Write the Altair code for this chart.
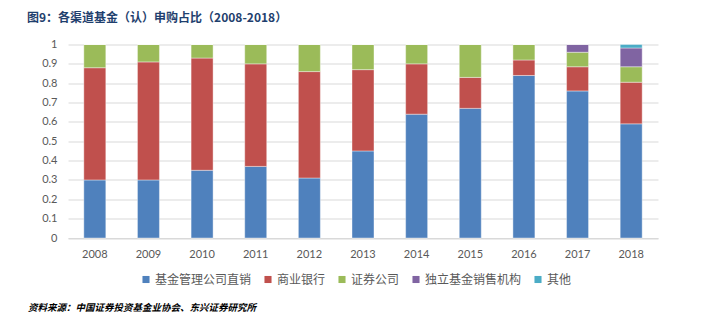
import altair as alt
import pandas as pd

years = ["2008", "2009", "2010", "2011", "2012", "2013", "2014", "2015", "2016", "2017", "2018"]
categories = ["基金管理公司直销", "商业银行", "证券公司", "独立基金销售机构", "其他"]
colors = ["#4F81BD", "#C0504D", "#9BBB59", "#8064A2", "#4BACC6"]

direct = [0.30, 0.30, 0.35, 0.37, 0.31, 0.45, 0.64, 0.67, 0.84, 0.76, 0.59]
bank = [0.58, 0.61, 0.58, 0.53, 0.55, 0.42, 0.26, 0.16, 0.08, 0.125, 0.215]
broker = [0.12, 0.09, 0.07, 0.10, 0.14, 0.13, 0.10, 0.17, 0.08, 0.075, 0.08]
independent = [0, 0, 0, 0, 0, 0, 0, 0, 0, 0.04, 0.097]
other = [0, 0, 0, 0, 0, 0, 0, 0, 0, 0, 0.018]

title_text = "图9：各渠道基金（认）申购占比（2008-2018）"
source_text = "资料来源：中国证券投资基金业协会、东兴证券研究所"
y_ticks = [0, 0.1, 0.2, 0.3, 0.4, 0.5, 0.6, 0.7, 0.8, 0.9, 1]

series = [direct, bank, broker, independent, other]
rows = []
for ci, (cat, vals) in enumerate(zip(categories, series)):
    for y, v in zip(years, vals):
        rows.append({"year": y, "channel": cat, "share": v, "ord": ci})
df = pd.DataFrame(rows)

bars = alt.Chart(df).mark_bar(stroke="white", strokeWidth=0.4).encode(
    x=alt.X("year:N", sort=years, title=None,
            scale=alt.Scale(paddingInner=0.59, paddingOuter=0.295),
            axis=alt.Axis(labelAngle=0, ticks=False, labelPadding=10, labelFontSize=11,
                          labelColor="#595959", labelFont="Lato",
                          domainColor="#D9D9D9", domainWidth=1)),
    y=alt.Y("share:Q", stack="zero", title=None,
            scale=alt.Scale(domain=[0, 1], nice=False),
            axis=alt.Axis(values=y_ticks, format="~g", ticks=False, domain=False,
                          labelPadding=11, labelFontSize=11, labelColor="#595959",
                          labelFont="Lato", gridColor="#D9D9D9", gridWidth=1)),
    color=alt.Color("channel:N", sort=categories,
                    scale=alt.Scale(domain=categories, range=colors),
                    legend=alt.Legend(title=None, orient="none", direction="horizontal",
                                      legendX=72, legendY=229, symbolType="square",
                                      symbolSize=50, symbolStrokeWidth=0,
                                      labelFont="Noto Sans CJK SC",
                                      labelFontSize=12,
                                      labelColor="#595959", columnPadding=10,
                                      labelOffset=3)),
    order=alt.Order("ord:Q", sort="ascending"),
)

title = alt.Chart(pd.DataFrame({"t": [title_text]})).mark_text(
    align="left", baseline="middle", font="Noto Sans CJK SC", fontSize=12,
    fontWeight="bold", color="#1F3F6E"
).encode(text="t:N", x=alt.value(-41), y=alt.value(-26.5))

source = alt.Chart(pd.DataFrame({"t": [source_text]})).mark_text(
    align="left", baseline="middle", font="Noto Sans CJK SC", fontSize=9.5,
    fontWeight="bold", fontStyle="italic", color="#000000"
).encode(text="t:N", x=alt.value(-40), y=alt.value(263.5))

chart = alt.layer(bars, title, source).properties(
    width=590, height=193.5,
    autosize=alt.AutoSizeParams(type="none"),
    padding={"left": 68, "top": 44.5, "right": 48, "bottom": 90},
).configure_view(stroke=None)

chart.save("out.html", embed_options={"renderer": "svg", "actions": False})
